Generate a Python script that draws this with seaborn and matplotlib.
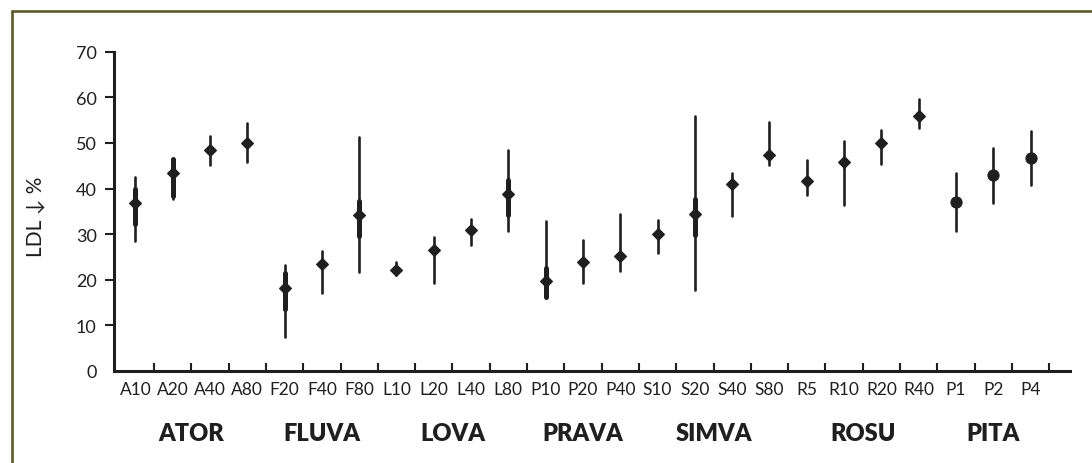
import numpy as np
import pandas as pd
import matplotlib
matplotlib.use("Agg")
import matplotlib.pyplot as plt
from matplotlib.lines import Line2D
import seaborn as sns

# ── Data ──────────────────────────────────────────────────────────────────────
CATS = ["A10", "A20", "A40", "A80", "F20", "F40", "F80", "L10", "L20", "L40", "L80",
        "P10", "P20", "P40", "S10", "S20", "S40", "S80", "R5", "R10", "R20", "R40",
        "P1", "P2", "P4"]
MID = [36.9, 43.4, 48.5, 50.0, 18.3, 23.4, 34.2, 22.1, 26.5, 31.0, 38.9,
       19.8, 23.9, 25.2, 30.0, 34.5, 41.1, 47.3, 41.6, 45.9, 50.0, 56.0,
       37.0, 43.0, 46.8]
LO = [28.4, 37.8, 45.1, 45.9, 7.4, 17.0, 21.6, 21.0, 19.4, 27.7, 30.6,
      15.9, 19.3, 21.9, 25.9, 17.7, 33.9, 45.1, 38.5, 36.5, 45.3, 53.2,
      30.8, 36.9, 40.8]
HI = [42.5, 46.5, 51.6, 54.4, 23.2, 26.3, 51.3, 23.9, 29.4, 33.3, 48.4,
      32.8, 28.8, 34.5, 33.2, 56.0, 43.3, 54.6, 46.2, 50.5, 52.9, 59.7,
      43.3, 48.9, 52.7]
CIRCLE_CATS = ["P1", "P2", "P4"]

# thicker inner segments
THICK_CATS = ["A10", "A20", "F20", "F80", "L80", "P10", "S20"]
THICK_LO = [32.3, 38.4, 13.6, 29.6, 34.1, 16.2, 29.8]
THICK_HI = [39.8, 46.4, 21.4, 37.2, 41.8, 22.5, 37.6]

GROUPS = ["ATOR", "FLUVA", "LOVA", "PRAVA", "SIMVA", "ROSU", "PITA"]
GROUP_POS = [1.5, 5.0, 8.5, 12.0, 15.5, 19.5, 23.0]

INK = "#1f1f1f"
BORDER = "#5f5b2b"

# long-form tables: lo / mid / hi per category, median → mid, min/max → range
rows = []
for c, lo, m, hi in zip(CATS, LO, MID, HI):
    for v in (lo, m, hi):
        rows.append({"drug": c, "val": v, "shape": "o" if c in CIRCLE_CATS else "D"})
df = pd.DataFrame(rows)
thick = pd.DataFrame({"drug": np.repeat(THICK_CATS, 2),
                      "val": np.ravel(np.column_stack([THICK_LO, THICK_HI]))})

sns.set_theme(style="white")
plt.rcParams["font.family"] = ["Lato", "DejaVu Sans"]

fig = plt.figure(figsize=(10.92, 4.64), dpi=100)
ax = fig.add_axes([0.1044, 0.1983, 0.8755, 0.6881])

rng = lambda v: (v.min(), v.max())

sns.pointplot(data=thick, x="drug", y="val", order=CATS, estimator="median",
              errorbar=rng, color=INK, linestyle="none", markersize=0,
              err_kws={"linewidth": 3.6}, ax=ax)
sns.pointplot(data=df[df["shape"] == "D"], x="drug", y="val", order=CATS,
              estimator="median", errorbar=rng, color=INK, linestyle="none",
              marker="D", markersize=5.8, markeredgewidth=0.8,
              err_kws={"linewidth": 1.9}, ax=ax)
sns.pointplot(data=df[df["shape"] == "o"], x="drug", y="val", order=CATS,
              estimator="median", errorbar=rng, color=INK, linestyle="none",
              marker="o", markersize=8.0, markeredgewidth=0.8,
              err_kws={"linewidth": 1.9}, ax=ax)

# ── Axes styling ──────────────────────────────────────────────────────────────
ax.set_xlim(-0.574, 25.06)
ax.set_ylim(0, 70)
for s in ("top", "right"):
    ax.spines[s].set_visible(False)
for s in ("left", "bottom"):
    ax.spines[s].set_linewidth(2.2)
    ax.spines[s].set_color(INK)

ax.set_yticks(range(0, 71, 10))
ax.tick_params(axis="y", direction="out", length=6.5, width=1.5, color=INK,
               labelsize=13, labelcolor=INK, pad=6, left=True)
ax.yaxis.get_major_ticks()[0].tick1line.set_visible(False)

ax.set_xticks(range(len(CATS)))
ax.set_xticklabels(CATS)
ax.set_xticks(np.arange(len(CATS)) + 0.5, minor=True)
ax.tick_params(axis="x", which="major", length=0, labelsize=12.5,
               labelcolor=INK, pad=7)
ax.tick_params(axis="x", which="minor", direction="in", length=6, width=1.5,
               color=INK, bottom=True)

ax.set_xlabel("")
ax.set_ylabel("LDL ↓ %", fontsize=15, color=INK)
ax.yaxis.set_label_coords(-0.072, 0.485)

for g, p in zip(GROUPS, GROUP_POS):
    ax.text(p, -0.194, g, transform=ax.get_xaxis_transform(), ha="center",
            va="center", fontsize=17, fontweight="heavy", color=INK)

# ── Frame (top + left olive rule) ─────────────────────────────────────────────
bx, by = 12 / 1092, 1 - 12 / 464
fig.add_artist(Line2D([bx, 1.0], [by, by], transform=fig.transFigure,
                      color=BORDER, lw=1.9))
fig.add_artist(Line2D([bx, bx], [0.0, by], transform=fig.transFigure,
                      color=BORDER, lw=1.9))

fig.savefig("out.png", dpi=100)
